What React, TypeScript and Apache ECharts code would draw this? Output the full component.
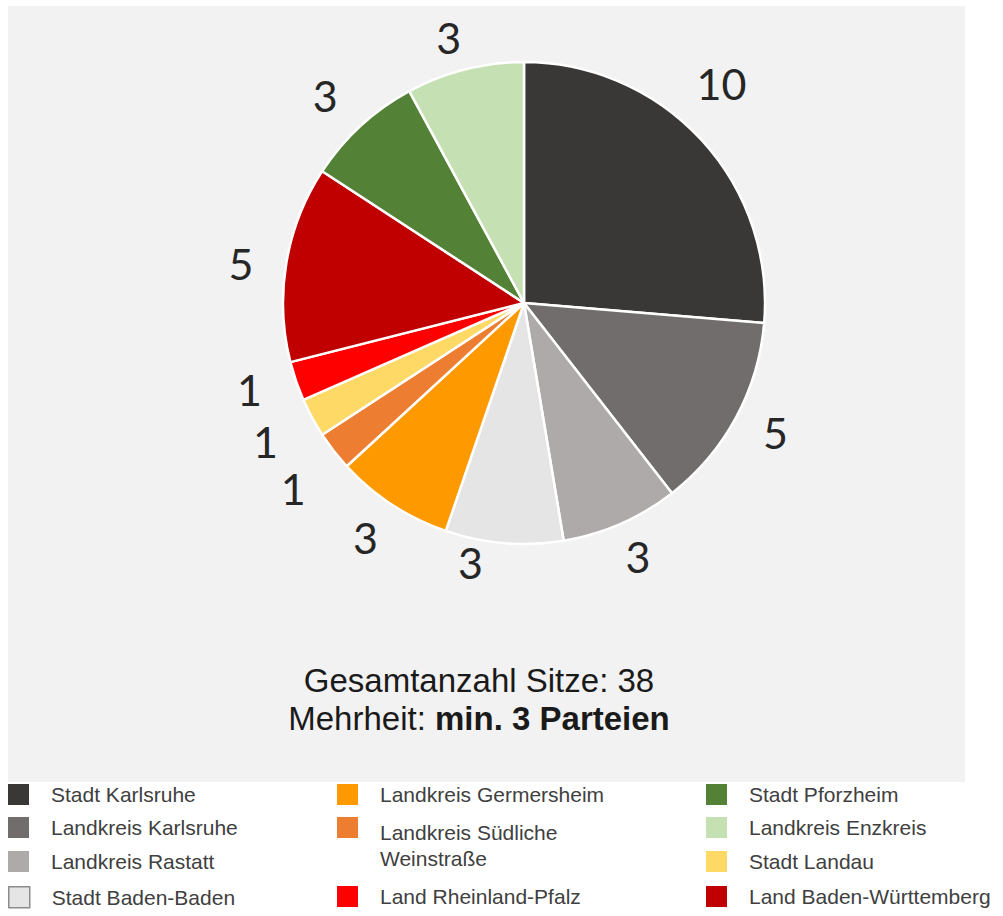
import React, { useEffect, useRef } from "react";
import * as echarts from "echarts";

// ---- data ----
const categories = [
  "Stadt Karlsruhe",
  "Landkreis Karlsruhe",
  "Landkreis Rastatt",
  "Stadt Baden-Baden",
  "Landkreis Germersheim",
  "Landkreis Südliche Weinstraße",
  "Stadt Landau",
  "Land Rheinland-Pfalz",
  "Land Baden-Württemberg",
  "Stadt Pforzheim",
  "Landkreis Enzkreis",
];
const seats = [10, 5, 3, 3, 3, 1, 1, 1, 5, 3, 3];
const colors = [
  "#3a3836",
  "#716d6c",
  "#aeaaa9",
  "#e5e5e5",
  "#ff9900",
  "#ed7d31",
  "#ffd966",
  "#ff0000",
  "#c00000",
  "#538135",
  "#c5e0b3",
];
const majorityParties = 3;
const totalLabel = "Gesamtanzahl Sitze: ";
const majorityLabel = "Mehrheit: ";

// legend grid placement (column, row) per category
const legendCol = [0, 0, 0, 0, 1, 1, 2, 1, 2, 2, 2];
const legendRow = [0, 1, 2, 3, 0, 1, 2, 3, 3, 0, 1];

// ---- layout ----
const CX = 524;
const CY = 303;
const R = 241;
const LR = 286;
// small per-label nudges (px) mimicking the original "best fit" label placement
const labelNudge: [number, number][] = [
  [-13, -26],
  [0, -7],
  [-1, -8],
  [-30, -26],
  [-2, -5],
  [-5, 10],
  [-7, 2],
  [-4, -6],
  [-1, 8],
  [-5, 3],
  [-5, 12],
];
const colX = [8, 337, 706];
const rowY = [784, 817, 851, 886];

export default function App() {
  const ref = useRef<HTMLDivElement>(null);

  useEffect(() => {
    if (!ref.current) return;
    const chart = echarts.init(ref.current, undefined, { renderer: "svg" });
    const total = seats.reduce((a, b) => a + b, 0);

    const legends = categories.map((name, i) => {
      const wrapped = name === "Landkreis Südliche Weinstraße";
      return {
        orient: "vertical",
        left: colX[legendCol[i]],
        top: rowY[legendRow[i]] - (wrapped ? 33 : 0),
        padding: 0,
        itemWidth: 21,
        itemHeight: 21,
        icon: "rect",
        selectedMode: false,
        formatter: wrapped
          ? () => "{s| }\n{a|Landkreis Südliche}\n{a|Weinstraße}"
          : undefined,
        textStyle: {
          fontFamily: "Liberation Sans, Arial, sans-serif",
          fontSize: 21,
          color: "#404040",
          lineHeight: 21,
          padding: [0, 0, 0, 17],
          rich: {
            s: { lineHeight: 35, fontSize: 10 },
            a: {
              fontFamily: "Liberation Sans, Arial, sans-serif",
              fontSize: 21,
              color: "#404040",
              lineHeight: 26,
            },
          },
        },
        data: [
          {
            name,
            itemStyle:
              name === "Stadt Baden-Baden"
                ? { borderColor: "#8c8c8c", borderWidth: 1.5 }
                : { borderWidth: 0 },
          },
        ],
      };
    });

    chart.setOption({
      animation: false,
      backgroundColor: "#ffffff",
      graphic: [
        {
          type: "rect",
          z: -10,
          silent: true,
          shape: { x: 8, y: 6, width: 957, height: 776 },
          style: { fill: "#f2f2f2" },
        },
        {
          type: "text",
          x: 479,
          y: 699,
          style: {
            text:
              "{r|" + totalLabel + total + "}\n{r|" + majorityLabel + "}{b|min. " + majorityParties + " Parteien}",
            align: "center",
            verticalAlign: "middle",
            rich: {
              r: {
                fontFamily: "Liberation Sans, Arial, sans-serif",
                fontSize: 33,
                lineHeight: 38,
                fill: "#1a1a1a",
              },
              b: {
                fontFamily: "Liberation Sans, Arial, sans-serif",
                fontSize: 33,
                fontWeight: "bold",
                lineHeight: 38,
                fill: "#1a1a1a",
              },
            },
          },
        },
      ],
      legend: legends,
      series: [
        {
          type: "pie",
          center: [CX, CY],
          radius: R,
          startAngle: 90,
          clockwise: true,
          avoidLabelOverlap: false,
          itemStyle: { borderColor: "#ffffff", borderWidth: 2.5 },
          label: {
            show: true,
            position: "outside",
            formatter: "{c}",
            fontFamily: "Lato, sans-serif",
            fontSize: 43,
            color: "#262626",
          },
          labelLine: { show: false },
          emphasis: { disabled: true },
          labelLayout: (p: any) => {
            const i = p.dataIndex;
            let before = 0;
            for (let k = 0; k < i; k++) before += seats[k];
            const mid = ((before + seats[i] / 2) / total) * Math.PI * 2;
            return {
              x: CX + LR * Math.sin(mid) + labelNudge[i][0],
              y: CY - LR * Math.cos(mid) + labelNudge[i][1],
              align: "center",
              verticalAlign: "middle",
            };
          },
          data: categories.map((name, i) => ({
            name,
            value: seats[i],
            itemStyle: { color: colors[i] },
          })),
        },
      ],
    });

    return () => chart.dispose();
  }, []);

  return (
    <div
      ref={ref}
      style={{ position: "fixed", left: 0, top: 0, width: 1003, height: 916 }}
    />
  );
}
